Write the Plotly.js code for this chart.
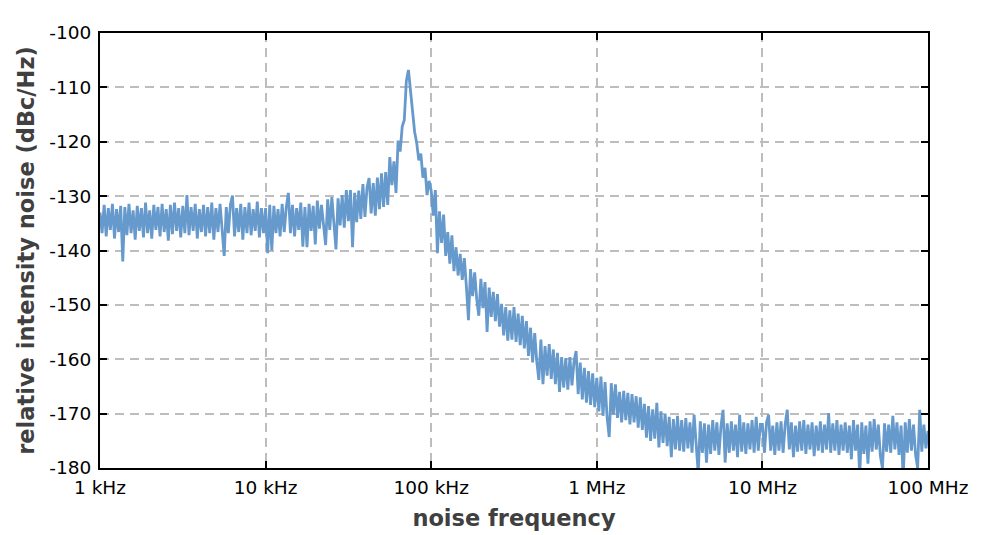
<!DOCTYPE html>
<html>
<head>
<meta charset="utf-8">
<script src="https://cdn.plot.ly/plotly-3.0.1.min.js"></script>
<style>
  html, body { margin: 0; padding: 0; background: #fff; }
  #plotDiv { width: 1000px; height: 535px; }
</style>
</head>
<body>
<div id="plotDiv"></div>
<script>
// Relative intensity noise spectrum, 1 kHz .. 100 MHz, log frequency axis.
// Sweep grid: 80 points per decade (mantissa) times the decade start.

const mantissa = [
  1.0000, 1.0292, 1.0593, 1.0902, 1.1220, 1.1548, 1.1885, 1.2232, 1.2589, 1.2957,
  1.3335, 1.3725, 1.4125, 1.4538, 1.4962, 1.5399, 1.5849, 1.6312, 1.6788, 1.7278,
  1.7783, 1.8302, 1.8836, 1.9387, 1.9953, 2.0535, 2.1135, 2.1752, 2.2387, 2.3041,
  2.3714, 2.4406, 2.5119, 2.5852, 2.6607, 2.7384, 2.8184, 2.9007, 2.9854, 3.0726,
  3.1623, 3.2546, 3.3497, 3.4475, 3.5481, 3.6517, 3.7584, 3.8681, 3.9811, 4.0973,
  4.2170, 4.3401, 4.4668, 4.5973, 4.7315, 4.8697, 5.0119, 5.1582, 5.3088, 5.4639,
  5.6234, 5.7876, 5.9566, 6.1306, 6.3096, 6.4938, 6.6834, 6.8786, 7.0795, 7.2862,
  7.4989, 7.7179, 7.9433, 8.1752, 8.4140, 8.6596, 8.9125, 9.1728, 9.4406, 9.7163
];

const decades = [1e3, 1e4, 1e5, 1e6, 1e7];

// dBc/Hz, one array per decade
const rin1k = [
  -133.0,-136.8,-131.6,-137.4,-132.2,-136.2,-131.4,-137.8,-132.4,-136.6,
  -131.8,-142.0,-132.0,-137.2,-131.4,-136.8,-132.6,-138.0,-131.8,-136.4,
  -132.2,-137.6,-131.2,-136.8,-132.6,-137.8,-131.6,-136.2,-132.0,-137.4,
  -131.4,-136.6,-132.4,-138.2,-131.6,-137.0,-131.2,-136.4,-132.2,-137.6,
  -131.8,-136.8,-129.8,-137.2,-132.0,-136.4,-131.4,-137.8,-132.4,-136.6,
  -131.6,-137.4,-132.0,-136.8,-131.2,-138.0,-132.2,-136.6,-131.4,-137.2,
  -141.0,-132.0,-136.8,-131.6,-129.9,-137.4,-132.2,-136.6,-131.4,-138.0,
  -132.0,-136.8,-131.2,-137.2,-132.4,-136.4,-131.0,-137.6,-132.2,-136.8
];
const rin10k = [
  -132.2,-140.5,-131.6,-140.0,-131.8,-136.8,-132.4,-137.4,-131.4,-136.6,
  -132.0,-129.4,-136.8,-131.6,-137.4,-132.2,-136.2,-131.2,-139.3,-132.0,
  -139.4,-131.4,-136.4,-131.8,-138.9,-130.8,-136.0,-131.6,-135.8,-139.0,
  -130.6,-136.2,-130.2,-135.6,-139.8,-130.4,-135.4,-129.8,-135.8,-128.9,
  -134.6,-128.9,-139.4,-129.4,-134.8,-129.0,-134.2,-127.8,-133.8,-128.4,
  -126.7,-133.2,-127.6,-133.6,-126.6,-132.4,-125.8,-132.0,-125.6,-131.6,
  -122.8,-128.0,-123.6,-129.4,-119.8,-121.8,-117.2,-116.0,-108.8,-106.8,
  -110.8,-113.8,-118.2,-120.2,-123.4,-122.2,-126.6,-124.8,-129.8,-127.2
];
const rin100k = [
  -129.0,-133.6,-128.9,-140.5,-132.8,-138.6,-133.4,-141.0,-136.6,-142.4,
  -137.2,-143.8,-139.4,-144.6,-140.6,-145.4,-141.4,-146.6,-152.8,-143.4,
  -148.4,-144.0,-149.0,-152.0,-145.2,-150.6,-145.8,-155.0,-146.8,-152.2,
  -147.6,-153.0,-148.0,-154.0,-149.8,-155.6,-150.4,-156.6,-151.0,-156.4,
  -150.4,-156.8,-151.6,-157.4,-152.0,-158.0,-153.0,-159.4,-154.2,-160.6,
  -155.2,-160.4,-163.8,-156.4,-164.6,-157.6,-163.0,-157.2,-163.6,-158.2,
  -164.6,-158.8,-166.0,-159.6,-165.2,-159.8,-165.6,-159.6,-164.8,-160.4,
  -158.5,-166.4,-160.6,-167.4,-161.6,-168.0,-162.2,-168.4,-162.6,-168.8
];
const rin1M = [
  -163.4,-169.6,-163.2,-170.4,-164.2,-170.8,-174.3,-164.4,-170.2,-164.6,
  -170.8,-166.0,-171.6,-165.8,-171.2,-166.2,-172.0,-166.4,-171.6,-166.8,
  -172.6,-167.0,-173.0,-168.2,-174.4,-168.6,-175.0,-169.2,-174.6,-168.0,
  -176.2,-169.6,-175.4,-170.0,-176.0,-170.6,-178.0,-171.0,-176.6,-170.4,
  -176.8,-171.2,-177.0,-170.8,-176.4,-171.6,-177.2,-170.2,-176.8,-181.0,
  -171.4,-177.2,-171.8,-179.0,-172.0,-177.4,-171.2,-176.8,-171.6,-177.6,
  -172.2,-169.3,-179.0,-171.8,-177.2,-171.4,-176.8,-172.0,-178.0,-170.2,
  -177.0,-171.6,-177.4,-171.8,-176.6,-171.2,-177.2,-170.6,-176.8,-172.0
];
const rin10M = [
  -172.0,-177.2,-171.6,-170.2,-176.8,-172.2,-177.6,-171.6,-176.8,-171.4,
  -177.2,-172.0,-169.3,-176.6,-171.6,-178.0,-172.2,-177.0,-171.4,-176.8,
  -171.2,-177.4,-172.0,-176.6,-171.6,-177.8,-172.2,-176.8,-171.4,-177.2,
  -172.0,-176.6,-169.9,-177.2,-171.8,-176.8,-171.2,-177.6,-172.0,-176.8,
  -171.6,-177.2,-172.2,-178.4,-171.2,-176.8,-172.0,-181.6,-171.6,-177.4,
  -172.2,-179.2,-171.4,-177.0,-171.0,-176.6,-172.0,-177.8,-180.0,-171.8,
  -177.0,-172.0,-177.2,-170.4,-176.6,-171.6,-177.6,-172.2,-182.0,-171.6,
  -177.2,-171.0,-176.8,-172.0,-177.6,-180.0,-169.3,-177.0,-172.0,-176.4
];
// last samples at and just past 100 MHz
const tailFreq = [1.0e8, 1.025e8];
const tailRin = [-173.2, -175.6];

const tickFreq = [1e3, 1e4, 1e5, 1e6, 1e7, 1e8];
const tickFreqText = ['1 kHz', '10 kHz', '100 kHz', '1 MHz', '10 MHz', '100 MHz'];
const tickRin = [-180, -170, -160, -150, -140, -130, -120, -110, -100];
const tickRinText = tickRin.map(v => String(v));

const freq = decades.flatMap(d => mantissa.map(m => m * d)).concat(tailFreq);
const rin = [].concat(rin1k, rin10k, rin100k, rin1M, rin10M, tailRin);

const FONT = '"DejaVu Sans", Verdana, sans-serif';

const trace = {
    x: freq,
    y: rin,
    type: 'scatter',
    mode: 'lines',
    line: { color: '#6699cc', width: 2.8 },
    hoverinfo: 'x+y',
};

const axisCommon = {
    showline: true, linecolor: '#000', linewidth: 2, mirror: 'ticks',
    ticks: 'inside', ticklen: 7, tickwidth: 2, tickcolor: '#000',
    showgrid: true, gridcolor: '#bdbdbd', gridwidth: 2, griddash: '9px,6px',
    zeroline: false,
    tickfont: { family: FONT, size: 18.5, color: '#000' },
};

const titleFont = { family: FONT, size: 22.5, color: '#404040', weight: 'bold' };

const layout = {
    width: 1000, height: 535,
    paper_bgcolor: '#fff', plot_bgcolor: '#fff',
    margin: { l: 100, r: 72, t: 33, b: 67 },
    showlegend: false,
    font: { family: FONT },
    xaxis: {
        ...axisCommon,
        type: 'log',
        range: [3, 8],
        tickmode: 'array', tickvals: tickFreq, ticktext: tickFreqText,
        ticklabelstandoff: 2,
        title: { text: 'noise frequency', font: titleFont, standoff: 13 },
    },
    yaxis: {
        ...axisCommon,
        range: [-180, -100],
        tickmode: 'array', tickvals: tickRin, ticktext: tickRinText,
        ticklabelstandoff: 3,
        title: { text: 'relative intensity noise (dBc/Hz)', font: titleFont, standoff: 8 },
    },
};

Plotly.newPlot('plotDiv', [trace], layout, { displayModeBar: false, staticPlot: true });
</script>
</body>
</html>
